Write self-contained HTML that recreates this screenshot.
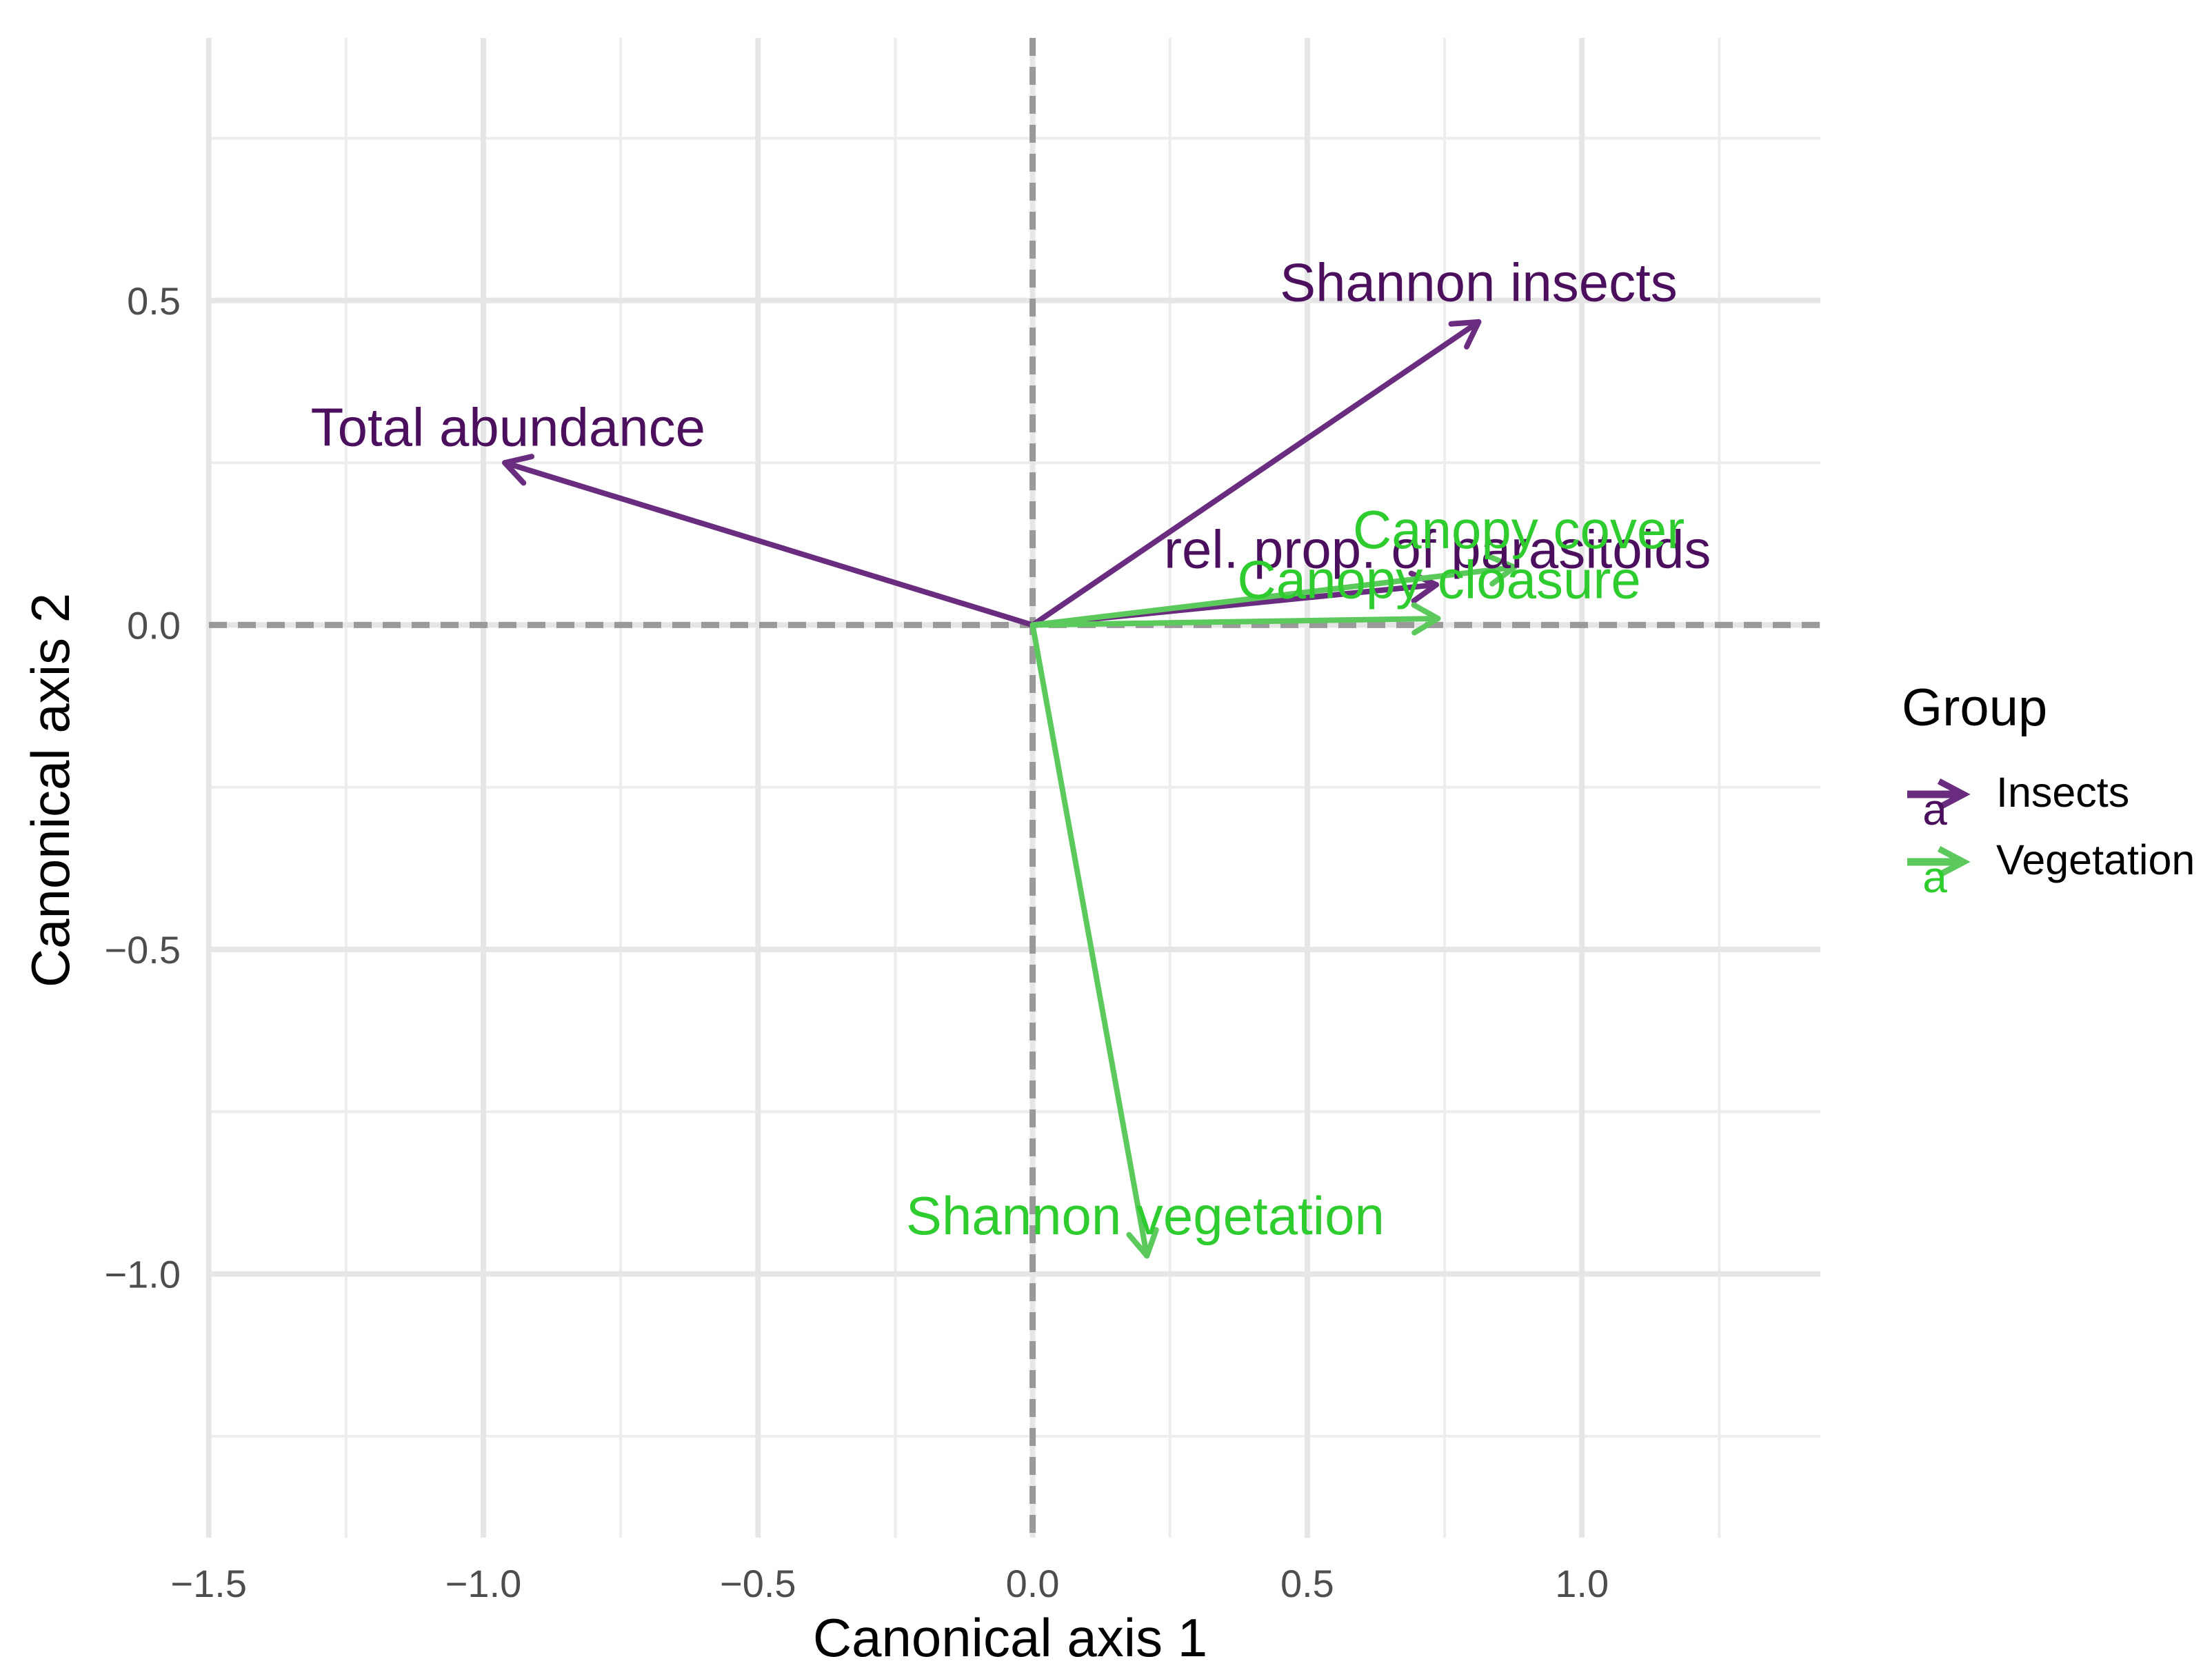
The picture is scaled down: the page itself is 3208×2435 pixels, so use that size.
<!DOCTYPE html>
<html><head><meta charset="utf-8">
<style>
html,body{margin:0;padding:0;background:#fff;}
svg text{font-family:"Liberation Sans",Arial,sans-serif;}
</style></head>
<body>
<svg id="chart" width="3208" height="2430" viewBox="0 0 3208 2430" xmlns="http://www.w3.org/2000/svg">
<g id="grid"></g>
<g id="arrows"></g>
<g id="labels"></g>
<g id="axes"></g>
<text x="1465" y="2402" font-size="78" text-anchor="middle" fill="#000">Canonical axis 1</text>
<text transform="translate(100,1146) rotate(-90)" font-size="78" text-anchor="middle" fill="#000">Canonical axis 2</text>
<g>
<text x="2758" y="1052" font-size="76" fill="#000">Group</text>
<g>
<line x1="2766" y1="1152" x2="2846" y2="1152" stroke="#6A2C7F" stroke-width="11"/>
<polyline points="2812,1133 2848,1152 2812,1171" fill="none" stroke="#6A2C7F" stroke-width="9"/>
<text x="2806" y="1196" font-size="64" text-anchor="middle" fill="#4B0F5E">a</text>
<text x="2895" y="1170" font-size="61" fill="#000">Insects</text>
</g>
<g>
<line x1="2766" y1="1250" x2="2846" y2="1250" stroke="#5BC95B" stroke-width="11"/>
<polyline points="2812,1231 2848,1250 2812,1269" fill="none" stroke="#5BC95B" stroke-width="9"/>
<text x="2806" y="1294" font-size="64" text-anchor="middle" fill="#2ECC2E">a</text>
<text x="2895" y="1268" font-size="61" fill="#000">Vegetation</text>
</g>
</g>
</svg>
<script>
const varNames = ["Total abundance","Shannon insects","rel. prop. of parasitoids","Canopy cover","Canopy cloasure","Shannon vegetation"];
const varGroups = ["Insects","Insects","Insects","Vegetation","Vegetation","Vegetation"];
const axis1 = [-0.961, 0.812, 0.735, 0.877, 0.738, 0.208];
const axis2 = [0.25, 0.467, 0.062, 0.089, 0.01, -0.972];
const labelX = [-0.955, 0.812, 0.737, 0.885, 0.74, 0.205];
const labelY = [0.305, 0.528, 0.117, 0.147, 0.07, -0.91];
const xTicks = [-1.5,-1.0,-0.5,0.0,0.5,1.0];
const xTickLabels = ["\u22121.5","\u22121.0","\u22120.5","0.0","0.5","1.0"];
const yTicks = [0.5,0.0,-0.5,-1.0];
const yTickLabels = ["0.5","0.0","\u22120.5","\u22121.0"];

const NS="http://www.w3.org/2000/svg";
const X0=1497.6, XU=796.6, Y0=906.4, YU=941.2;
const PL=303, PR=2640, PT=55, PB=2230;
const sx=v=>X0+v*XU, sy=v=>Y0-v*YU;
const colLine={Insects:"#6A2C7F",Vegetation:"#5BC95B"};
const colText={Insects:"#4B0F5E",Vegetation:"#2ECC2E"};
function mk(tag,attrs,parent){const e=document.createElementNS(NS,tag);for(const k in attrs)e.setAttribute(k,attrs[k]);parent.appendChild(e);return e;}

const grid=document.getElementById('grid');
for(let v=-1.25; v<=1.3; v+=0.5){
  const el=mk('line',{x1:sx(v),x2:sx(v),y1:PT,y2:PB,stroke:'#ededed','stroke-width':4},grid);
  
  
}
for(let v=0.75; v>=-1.3; v-=0.5){
  const el=mk('line',{x1:PL,x2:PR,y1:sy(v),y2:sy(v),stroke:'#ededed','stroke-width':4},grid);
  
  
}
xTicks.forEach(v=>{
  const el=mk('line',{x1:sx(v),x2:sx(v),y1:PT,y2:PB,stroke:'#e6e6e6','stroke-width':8},grid);
  
  
});
yTicks.forEach(v=>{
  const el=mk('line',{x1:PL,x2:PR,y1:sy(v),y2:sy(v),stroke:'#e6e6e6','stroke-width':8},grid);
  
  
});
const h=mk('line',{x1:PL,x2:PR,y1:sy(0),y2:sy(0),stroke:'#999','stroke-width':9,'stroke-dasharray':'26 16'},grid);


const vl=mk('line',{x1:sx(0),x2:sx(0),y1:PT,y2:PB,stroke:'#999','stroke-width':9,'stroke-dasharray':'26 16'},grid);



const arrows=document.getElementById('arrows');
const labels=document.getElementById('labels');
varNames.forEach((n,i)=>{
  const g=mk('g',{},arrows);
  
  
  const x1=sx(0),y1=sy(0),x2=sx(axis1[i]),y2=sy(axis2[i]);
  const c=colLine[varGroups[i]];
  mk('line',{x1,y1,x2,y2,stroke:c,'stroke-width':8,'stroke-linecap':'round'},g);
  const a=Math.atan2(y2-y1,x2-x1),L=40,w=Math.PI/6;
  const p1=[x2-L*Math.cos(a-w),y2-L*Math.sin(a-w)],p2=[x2-L*Math.cos(a+w),y2-L*Math.sin(a+w)];
  mk('polyline',{points:`${p1} ${x2},${y2} ${p2}`,fill:'none',stroke:c,'stroke-width':8,'stroke-linecap':'round','stroke-linejoin':'round'},g);
  const t=mk('text',{x:sx(labelX[i]),y:sy(labelY[i])+27,'font-size':78,'text-anchor':'middle',fill:colText[varGroups[i]]},labels);
  t.textContent=n;
  
  
});

const axes=document.getElementById('axes');
xTicks.forEach((v,i)=>{
  const t=mk('text',{x:sx(v),y:2316,'font-size':56,'text-anchor':'middle',fill:'#4d4d4d'},axes);
  t.textContent=xTickLabels[i];
  
  
});
yTicks.forEach((v,i)=>{
  const t=mk('text',{x:262,y:sy(v)+20,'font-size':56,'text-anchor':'end',fill:'#4d4d4d'},axes);
  t.textContent=yTickLabels[i];
  
  
});
</script>
</body></html>
